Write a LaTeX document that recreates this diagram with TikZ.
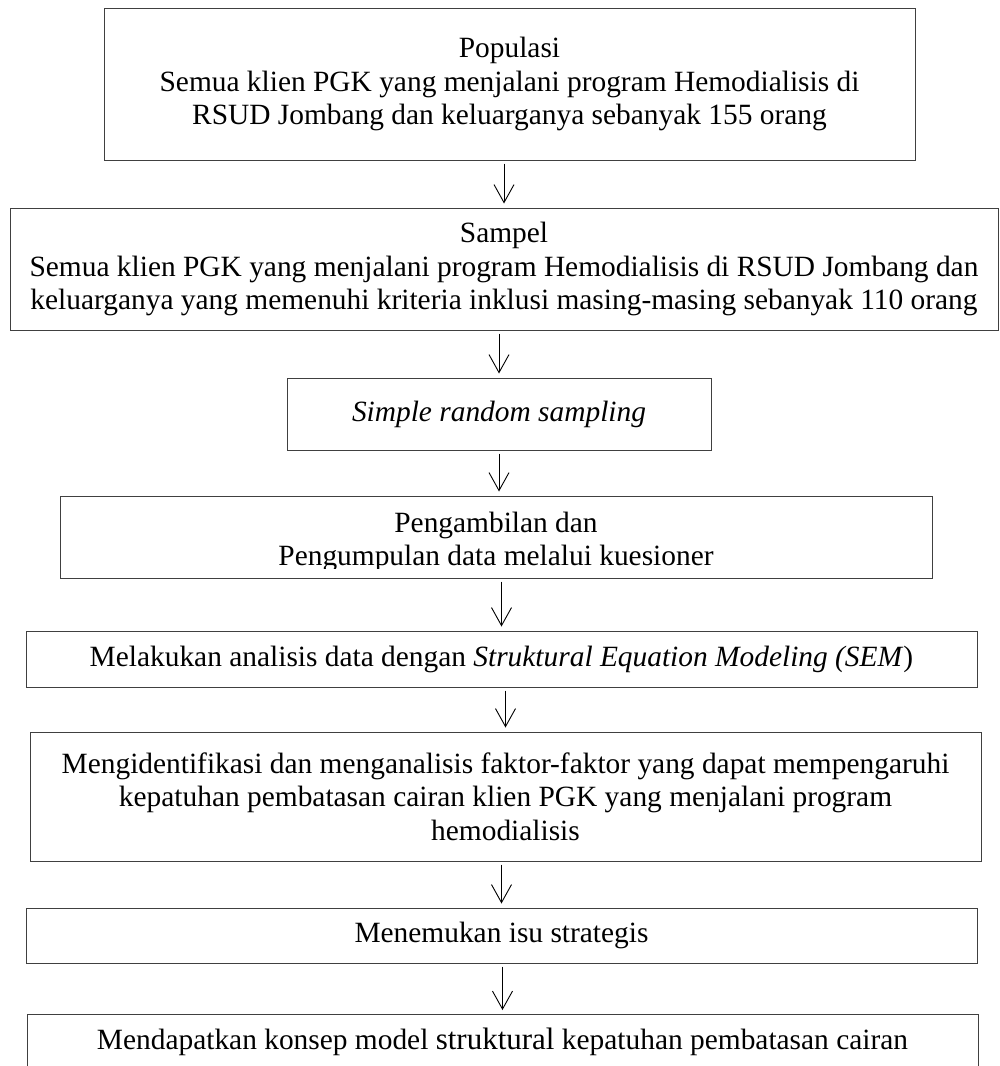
\documentclass[tikz,border=0pt]{standalone}
\usepackage{fontspec}
\setmainfont{Liberation Serif}
\usetikzlibrary{arrows.meta}
\begin{document}
\begin{tikzpicture}[x=1pt,y=-1pt,
  box/.style={draw=black!75, line width=1pt, rectangle, inner sep=0pt, align=center,
              font=\fontsize{29.4}{33.5}\selectfont},
  txt/.style={inner sep=0pt, align=center, font=\fontsize{29.4}{33.5}\selectfont},
  flow/.style={draw=black, line width=0.9pt,
               -{Straight Barb[length=18pt,width=20pt,line width=0.9pt]},
               shorten >=4pt, shorten <=3pt}]
\useasboundingbox (0,0) rectangle (1000,1066);
\clip (0,0) rectangle (1000,1066);

% flow boxes, top to bottom
\node[box, minimum width=811pt, minimum height=152pt] (pop) at (509.5,84)
  {Populasi\\Semua klien PGK yang menjalani program Hemodialisis di\\RSUD Jombang dan keluarganya sebanyak 155 orang};

\node[box, minimum width=988pt, minimum height=122pt] (samp) at (504,269)
  {Sampel\\Semua klien PGK yang menjalani program Hemodialisis di RSUD Jombang dan\\keluarganya yang memenuhi kriteria inklusi masing-masing sebanyak 110 orang};

\node[box, minimum width=424pt, minimum height=72pt] (srs) at (499,414)
  {\itshape Simple random sampling};

\node[box, minimum width=872pt, minimum height=82pt] (data) at (496,537) {};
\begin{scope}
  \clip (data.north west) rectangle ([yshift=10pt]data.south east);
  \node[txt] (datatext) at (496,542) {Pengambilan dan\\Pengumpulan data melalui kuesioner};
\end{scope}

\node[box, minimum width=951pt, minimum height=56pt] (sem) at (501.5,659)
  {Melakukan analisis data dengan \textit{Struktural Equation Modeling (SEM})};

\node[box, minimum width=951pt, minimum height=129pt] (ident) at (505.5,796.5)
  {Mengidentifikasi dan menganalisis faktor-faktor yang dapat mempengaruhi\\kepatuhan pembatasan cairan klien PGK yang menjalani program\\hemodialisis};

\node[box, minimum width=951pt, minimum height=55pt] (isu) at (501.5,935.5)
  {Menemukan isu strategis};

\node[box, anchor=north, minimum width=951pt, minimum height=100pt] (model) at (502.5,1014) {};
\node[txt] (modeltext) at (502.5,1042)
  {Mendapatkan konsep model {\fontsize{31}{33.5}\selectfont struktural} kepatuhan pembatasan cairan};

% connectors
\draw[flow] (pop.south -| samp.north) -- (samp.north);
\draw[flow] (samp.south -| srs.north) -- (srs.north);
\draw[flow] (srs.south) -- (srs.south |- data.north);
\draw[flow] (data.south -| sem.north) -- (sem.north);
\draw[flow] (sem.south -| ident.north) -- (ident.north);
\draw[flow] (ident.south -| isu.north) -- (isu.north);
\draw[flow] (isu.south -| model.north) -- (model.north);
\end{tikzpicture}
\end{document}
